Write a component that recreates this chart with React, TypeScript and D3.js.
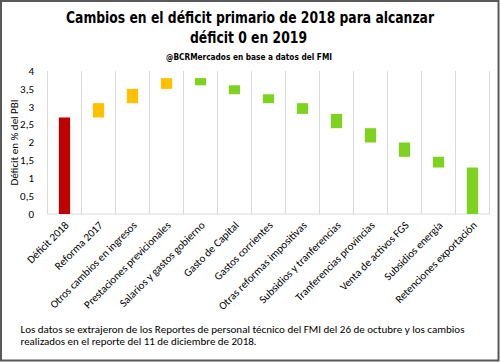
import React from "react";
import * as d3 from "d3";

const categories = [
  "Déficit 2018",
  "Reforma 2017",
  "Otros cambios en ingresos",
  "Prestaciones previcionales",
  "Salarios y gastos gobierno",
  "Gasto de Capital",
  "Gastos corrientes",
  "Otras reformas impositivas",
  "Subsidios y tranferencias",
  "Tranferencias provincias",
  "Venta de activos FGS",
  "Subsidios energía",
  "Retenciones exportación",
];
const barStart = [0, 2.7, 3.1, 3.5, 3.8, 3.6, 3.35, 3.1, 2.8, 2.4, 2.0, 1.6, 1.3];
const barEnd = [2.7, 3.1, 3.5, 3.8, 3.6, 3.35, 3.1, 2.8, 2.4, 2.0, 1.6, 1.3, 0];
const barKind = ["base", "up", "up", "up", "down", "down", "down", "down", "down", "down", "down", "down", "down"];
const yTicks = [0, 0.5, 1, 1.5, 2, 2.5, 3, 3.5, 4];

const colors: Record<string, string> = { base: "#C00000", up: "#FFC000", down: "#7ED321" };

const W = 500;
const H = 362;
const left = 47.5;
const right = 489.5;
const top = 71;
const bottom = 214;

export default function App() {
  const x = d3.scaleBand<string>().domain(categories).range([left, right]).paddingInner(0).paddingOuter(0);
  const y = d3.scaleLinear().domain([0, 4]).range([bottom, top]);
  const bw = x.bandwidth() * 0.33;
  const fmt = (v: number) => String(v).replace(".", ",");
  const bodyFont = "Carlito, Lato, 'Liberation Sans', sans-serif";
  const titleFont = "'DejaVu Sans Condensed', 'DejaVu Sans', sans-serif";
  return (
    <svg width={W} height={H} style={{ position: "absolute", left: 0, top: 0 }}>
      <rect x={0} y={0} width={W} height={H} fill="#fff" />
      <rect x={1} y={1} width={W - 2.5} height={H - 2.5} fill="none" stroke="#595959" strokeWidth={2} />
      <text x={250} y={22.7} textAnchor="middle" fontFamily={titleFont} fontWeight="bold" fontSize={16.5} fill="#000"
        textLength={368} lengthAdjust="spacingAndGlyphs">
        Cambios en el déficit primario de 2018 para alcanzar
      </text>
      <text x={248.5} y={42.7} textAnchor="middle" fontFamily={titleFont} fontWeight="bold" fontSize={16.5} fill="#000"
        textLength={117} lengthAdjust="spacingAndGlyphs">
        déficit 0 en 2019
      </text>
      <text x={249} y={60} textAnchor="middle" fontFamily={titleFont} fontWeight="bold" fontSize={9.5} fill="#000"
        textLength={166} lengthAdjust="spacingAndGlyphs">
        @BCRMercados en base a datos del FMI
      </text>
      {/* vertical gridlines */}
      {categories.map((c) => (
        <line key={"g" + c} x1={x(c)!} x2={x(c)!} y1={top} y2={bottom} stroke="#D9D9D9" strokeWidth={1} />
      ))}
      <line x1={right} x2={right} y1={top} y2={bottom} stroke="#D9D9D9" strokeWidth={1} />
      <line x1={left} x2={right} y1={bottom} y2={bottom} stroke="#D9D9D9" strokeWidth={1} />
      {/* y ticks */}
      {yTicks.map((t) => (
        <text key={"t" + t} x={34} y={y(t)} dy="0.35em" textAnchor="end" fontFamily={bodyFont} fontSize={11} fill="#000">
          {fmt(t)}
        </text>
      ))}
      <text
        transform={`translate(18,${(top + bottom) / 2}) rotate(-90)`}
        textAnchor="middle"
        fontFamily={bodyFont}
        fontSize={11}
        fill="#000"
      >
        Déficit en % del PBI
      </text>
      {/* bars */}
      {categories.map((c, i) => {
        const y0 = y(Math.max(barStart[i], barEnd[i]));
        const y1 = y(Math.min(barStart[i], barEnd[i]));
        return (
          <rect
            key={"b" + c}
            x={x(c)! + x.bandwidth() / 2 - bw / 2}
            y={y0}
            width={bw}
            height={y1 - y0}
            fill={colors[barKind[i]]}
          />
        );
      })}
      {/* x labels */}
      {categories.map((c) => (
        <text
          key={"l" + c}
          transform={`translate(${x(c)! + x.bandwidth() / 2 + 5},${bottom + 12}) rotate(-45)`}
          textAnchor="end"
          fontFamily={bodyFont}
          fontSize={11}
          fill="#000"
        >
          {c}
        </text>
      ))}
      <text x={20.5} y={333} fontFamily={bodyFont} fontSize={11} fill="#000" textLength={444} lengthAdjust="spacingAndGlyphs">
        Los datos se extrajeron de los Reportes de personal técnico del FMI del 26 de octubre y los cambios
      </text>
      <text x={20.5} y={345} fontFamily={bodyFont} fontSize={11} fill="#000" textLength={236} lengthAdjust="spacingAndGlyphs">
        realizados en el reporte del 11 de diciembre de 2018.
      </text>
    </svg>
  );
}
